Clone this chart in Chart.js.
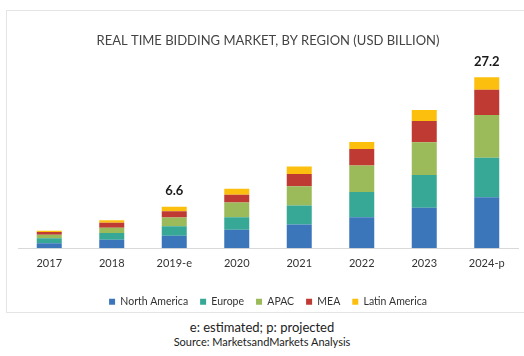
<!DOCTYPE html>
<html>
<head>
<meta charset="utf-8">
<script src="https://cdn.jsdelivr.net/npm/chart.js@4"></script>
<style>
  body { margin: 0; background: #fff; width: 524px; height: 356px; overflow: hidden; position: relative; font-family: "Lato", sans-serif; }
  #frame { position: absolute; left: 6px; top: 10px; width: 540px; height: 303px; border: 1px solid #e4e4e4; box-sizing: border-box; }
  #wrap { position: absolute; left: 0; top: 0; width: 524px; height: 318px; }
  .note { position: absolute; left: 0; width: 524px; text-align: center; color: #222; }
</style>
</head>
<body>
<div id="frame"></div>
<div id="wrap"><canvas id="rtbChart"></canvas></div>
<div class="note" style="top:319px; font-size:13px;">e: estimated; p: projected</div>
<div class="note" style="top:335px; font-size:11px;">Source: MarketsandMarkets Analysis</div>
<script>
const years = ["2017", "2018", "2019-e", "2020", "2021", "2022", "2023", "2024-p"];
const northAmerica = [0.8, 1.35, 2.0, 2.95, 3.8, 4.95, 6.45, 8.1];
const europe = [0.8, 1.1, 1.5, 2.0, 3.0, 4.0, 5.2, 6.3];
const apac = [0.55, 0.8, 1.4, 2.35, 3.05, 4.2, 5.2, 6.8];
const mea = [0.43, 0.8, 1.0, 1.2, 1.95, 2.65, 3.4, 4.0];
const latinAmerica = [0.22, 0.4, 0.7, 0.95, 1.2, 1.1, 1.75, 2.0];
const totalLabels = ["", "", "6.6", "", "", "", "", "27.2"];

const chartCanvas = document.getElementById("rtbChart");
const fontName = "Lato, sans-serif";

// writes the total above the chosen bars
const totalsPlugin = {
  id: "totals",
  afterDatasetsDraw(chart) {
    const ctx = chart.ctx;
    const lastMeta = chart.getDatasetMeta(chart.data.datasets.length - 1);
    ctx.save();
    ctx.font = "bold 13px " + fontName;
    ctx.fillStyle = "#1a1a1a";
    ctx.textAlign = "center";
    ctx.textBaseline = "bottom";
    lastMeta.data.forEach((bar, i) => {
      if (totalLabels[i]) {
        ctx.fillText(totalLabels[i], bar.x, bar.y - 9);
      }
    });
    ctx.restore();
  },
};

new Chart(chartCanvas, {
  type: "bar",
  data: {
    labels: years,
    datasets: [
      { label: "North America", data: northAmerica, backgroundColor: "#3b76bb" },
      { label: "Europe", data: europe, backgroundColor: "#37a896" },
      { label: "APAC", data: apac, backgroundColor: "#9bba59" },
      { label: "MEA", data: mea, backgroundColor: "#be3a32" },
      { label: "Latin America", data: latinAmerica, backgroundColor: "#fcbf0e" },
    ],
  },
  options: {
    responsive: true,
    maintainAspectRatio: false,
    animation: false,
    layout: { padding: { left: 18, right: 6, top: 0, bottom: 1 } },
    datasets: { bar: { categoryPercentage: 0.4, barPercentage: 1.0 } },
    plugins: {
      title: {
        display: true,
        text: "REAL TIME BIDDING MARKET, BY REGION (USD BILLION)",
        color: "#444",
        font: { family: fontName, size: 13, weight: "normal" },
        padding: { top: 33, bottom: 11 },
      },
      legend: {
        position: "bottom",
        labels: {
          boxWidth: 6,
          boxHeight: 6,
          padding: 12,
          color: "#333",
          font: { family: fontName, size: 10.5 },
        },
      },
      tooltip: { enabled: false },
    },
    scales: {
      x: {
        stacked: true,
        grid: { display: false, drawTicks: false },
        border: { color: "#d9d9d9" },
        ticks: {
          color: "#333",
          padding: 9,
          font: { family: fontName, size: 11 },
        },
        afterFit(scale) {
          scale.height += 5;
        },
      },
      y: {
        stacked: true,
        display: false,
        min: 0,
        max: 30,
      },
    },
  },
  plugins: [totalsPlugin],
});
</script>
</body>
</html>
